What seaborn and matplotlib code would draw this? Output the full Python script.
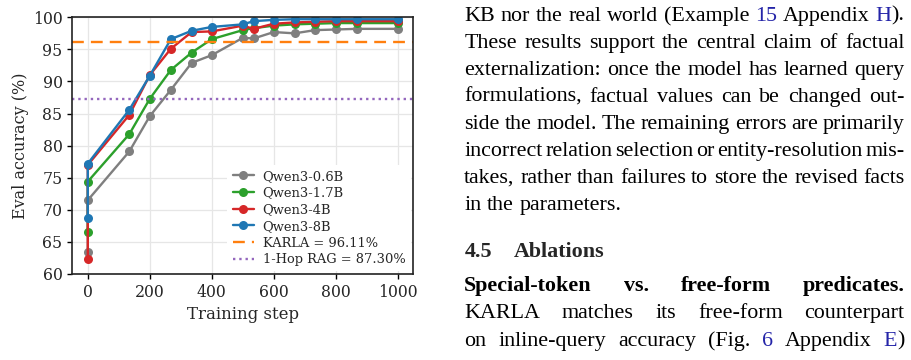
import matplotlib
matplotlib.use('Agg')
import matplotlib.pyplot as plt
import pandas as pd
import seaborn as sns

# Data
steps = [0, 0, 134, 200, 268, 335, 400, 500, 535, 600, 667, 733, 800, 867, 1000]
qwen_06b = [63.5, 71.5, 79.1, 84.6, 88.7, 92.9, 94.1, 96.8, 96.7, 97.7, 97.5, 98.0, 98.1, 98.2, 98.2]
qwen_17b = [66.6, 74.4, 81.8, 87.3, 91.8, 94.5, 96.6, 98.0, 98.3, 98.7, 98.9, 99.0, 99.1, 99.1, 99.1]
qwen_4b = [62.3, 77.0, 84.8, 91.0, 95.1, 97.7, 97.8, 98.7, 98.2, 99.0, 99.2, 99.3, 99.4, 99.4, 99.4]
qwen_8b = [68.7, 77.2, 85.6, 90.9, 96.6, 97.9, 98.5, 98.9, 99.4, 99.6, 99.7, 99.7, 99.7, 99.7, 99.7]
model_names = ['Qwen3-0.6B', 'Qwen3-1.7B', 'Qwen3-4B', 'Qwen3-8B']
model_colors = ['#7f7f7f', '#2ca02c', '#d62728', '#1f77b4']
karla_acc = 96.11
rag_acc = 87.30

x_ticks = [0, 200, 400, 600, 800, 1000]
y_ticks = [60, 65, 70, 75, 80, 85, 90, 95, 100]

# Build a long table for seaborn
rows = []
for name, vals in zip(model_names, [qwen_06b, qwen_17b, qwen_4b, qwen_8b]):
    for s, v in zip(steps, vals):
        rows.append({'step': s, 'acc': v, 'model': name})
df = pd.DataFrame(rows)

sns.set_style('ticks')
plt.rcParams['font.family'] = 'DejaVu Serif'

W, H = 911, 360
fig = plt.figure(figsize=(W / 100, H / 100), dpi=100)
ax = fig.add_axes([72.3 / W, 1 - 274 / H, (413.3 - 72.3) / W, (274 - 17.3) / H])

ax.grid(True, color='#e6e6e6', linewidth=0.9)
ax.set_axisbelow(True)

sns.lineplot(data=df, x='step', y='acc', hue='model', hue_order=model_names,
             palette=model_colors, marker='o', markersize=6.5, markeredgewidth=0,
             linewidth=1.7, estimator=None, sort=False, ax=ax)

ax.axhline(karla_acc, color='#ff7f0e', linestyle='--', linewidth=1.7,
           dashes=(5, 3), label=f'KARLA = {karla_acc:.2f}%')
ax.axhline(rag_acc, color='#9467bd', linestyle=':', linewidth=1.7,
           label=f'1-Hop RAG = {rag_acc:.2f}%')

ax.set_xlim(-50, 1050)
ax.set_ylim(60, 100)
ax.set_xticks(x_ticks)
ax.set_yticks(y_ticks)
ax.tick_params(labelsize=11.3, length=3.5, width=1, color='black')
ax.set_xlabel('Training step', fontsize=12, labelpad=4)
ax.set_ylabel('Eval accuracy (%)', fontsize=11.5, labelpad=3)
for sp in ax.spines.values():
    sp.set_color('#222222')
    sp.set_linewidth(1.2)

handles, labels = ax.get_legend_handles_labels()
leg = ax.legend(handles, labels, loc='lower right', fontsize=9.4, labelspacing=0.28,
                handlelength=1.6, handletextpad=0.7, borderaxespad=0.2, frameon=True,
                framealpha=1.0, edgecolor='none', facecolor='white')

# ---- paper text on the right ----
renderer = fig.canvas.get_renderer()
link = '#2424a8'
fs = 15.8
x0, x1 = 464.3, 904.5


def parse(word):
    # {..} marks a link-coloured piece
    parts = []
    buf = ''
    col = 'black'
    for ch in word:
        if ch == '{':
            if buf:
                parts.append((buf, col))
            buf, col = '', link
        elif ch == '}':
            parts.append((buf, col))
            buf, col = '', 'black'
        else:
            buf += ch
    if buf:
        parts.append((buf, col))
    return parts


def place_line(text, y, justify=True, weight='normal'):
    words = text.split()
    groups = []
    widths = []
    for w in words:
        objs = []
        wid = 0
        for s, c in parse(w):
            t = fig.text(0, 0, s, color=c, fontsize=fs, family='Liberation Serif',
                         weight=weight, va='baseline', ha='left')
            bw = t.get_window_extent(renderer).width
            objs.append((t, bw))
            wid += bw
        groups.append(objs)
        widths.append(wid)
    if justify and len(words) > 1:
        gap = (x1 - x0 - sum(widths)) / (len(words) - 1)
    else:
        gap = 0.25 * fs * 100 / 72
    x = x0
    for objs, wid in zip(groups, widths):
        xx = x
        for t, bw in objs:
            t.set_position((xx / W, 1 - y / H))
            xx += bw
        x += wid + gap


body = [
    ('KB nor the real world (Example {15} Appendix {H}).', 20.7, True),
    ('These results support the central claim of factual', 47.7, True),
    ('externalization: once the model has learned query', 74.7, True),
    ('formulations, factual values can be changed out-', 101.7, True),
    ('side the model. The remaining errors are primarily', 128.7, True),
    ('incorrect relation selection or entity-resolution mis-', 155.7, True),
    ('takes, rather than failures to store the revised facts', 182.7, True),
    ('in the parameters.', 209.7, False),
    ('KARLA matches its free-form counterpart', 318.3, True),
    ('on inline-query accuracy (Fig. {6} Appendix {E})', 345.7, True),
]
for txt, y, just in body:
    place_line(txt, y, just)

place_line('Special-token vs. free-form predicates.', 291.0, True, weight='bold')
fig.text(x0 / W, 1 - 256.7 / H, '4.5', fontsize=fs, family='Liberation Serif',
         weight='bold', va='baseline')
fig.text(513.3 / W, 1 - 256.7 / H, 'Ablations', fontsize=fs, family='Liberation Serif',
         weight='bold', va='baseline')

fig.savefig('out.png', dpi=100)
